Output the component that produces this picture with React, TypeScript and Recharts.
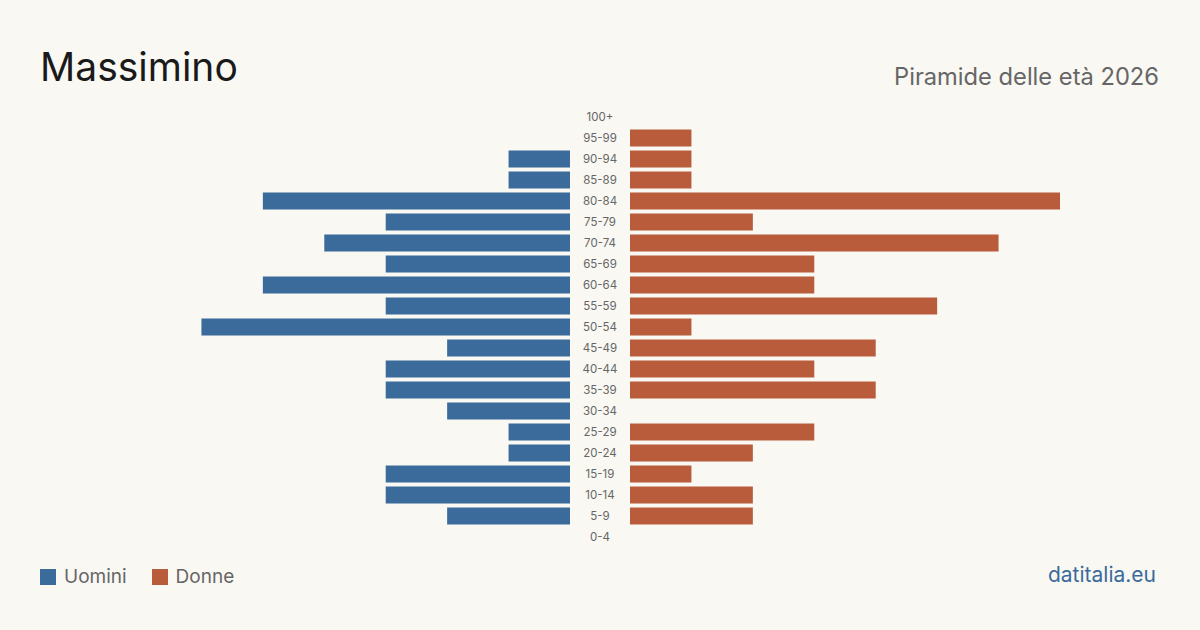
import React from "react";
import { BarChart, Bar, XAxis, YAxis } from "recharts";

const ageGroups = [
  "100+", "95-99", "90-94", "85-89", "80-84", "75-79", "70-74", "65-69", "60-64", "55-59",
  "50-54", "45-49", "40-44", "35-39", "30-34", "25-29", "20-24", "15-19", "10-14", "5-9", "0-4",
];
const uomini = [0, 0, 1, 1, 5, 3, 4, 3, 5, 3, 6, 2, 3, 3, 2, 1, 1, 3, 3, 2, 0];
const donne = [0, 1, 1, 1, 7, 2, 6, 3, 3, 5, 1, 4, 3, 4, 0, 3, 2, 1, 2, 2, 0];

const data = ageGroups.map((age, i) => ({ age, uomini: uomini[i], donne: donne[i] }));

const BLUE = "#3b6b9b";
const RED = "#b95c3c";
const BG = "#f9f8f3";
const FONT = "Inter, 'Noto Sans', sans-serif";
const MAX = 7;

// Age labels sit centred in the gap between the two halves
const AgeTick = (props: any) => {
  const { y, payload } = props;
  return (
    <text x={460} y={y} dy={4} textAnchor="middle" fontSize={11.5} fill="#666" fontFamily={FONT}>
      {payload.value}
    </text>
  );
};

export default function App() {
  const chartTop = 106.5;
  const chartBottom = 630 - 547.5;
  return (
    <div
      style={{
        position: "absolute",
        left: 0,
        top: 0,
        width: 1200,
        height: 630,
        background: BG,
        fontFamily: FONT,
        overflow: "hidden",
      }}
    >
      <div style={{ position: "absolute", left: 40, top: 42, fontSize: 39, color: "#1a1a1a", lineHeight: "50px" }}>
        Massimino
      </div>
      <div style={{ position: "absolute", right: 41, top: 62, fontSize: 23.7, color: "#666", lineHeight: "30px" }}>
        Piramide delle età 2026
      </div>

      <div style={{ position: "absolute", left: 140, top: 0 }}>
        <BarChart
          width={490}
          height={630}
          data={data}
          layout="vertical"
          margin={{ top: chartTop, bottom: chartBottom, left: 0, right: 0 }}
        >
          <XAxis type="number" domain={[0, MAX]} reversed hide />
          <YAxis
            type="category"
            dataKey="age"
            orientation="right"
            width={60}
            axisLine={false}
            tickLine={false}
            tick={<AgeTick />}
            interval={0}
          />
          <Bar dataKey="uomini" fill={BLUE} barSize={17} isAnimationActive={false} />
        </BarChart>
      </div>

      <div style={{ position: "absolute", left: 630, top: 0 }}>
        <BarChart
          width={430}
          height={630}
          data={data}
          layout="vertical"
          margin={{ top: chartTop, bottom: chartBottom, left: 0, right: 0 }}
        >
          <XAxis type="number" domain={[0, MAX]} hide />
          <YAxis type="category" dataKey="age" hide />
          <Bar dataKey="donne" fill={RED} barSize={17} isAnimationActive={false} />
        </BarChart>
      </div>

      <div style={{ position: "absolute", left: 40, top: 565, display: "flex", alignItems: "center", fontSize: 19, color: "#666" }}>
        <span style={{ width: 16, height: 16, background: BLUE, display: "inline-block", marginRight: 8 }} />
        <span>Uomini</span>
        <span style={{ width: 16, height: 16, background: RED, display: "inline-block", marginLeft: 25, marginRight: 8 }} />
        <span>Donne</span>
      </div>
      <div style={{ position: "absolute", right: 44, top: 562, fontSize: 21, color: BLUE }}>datitalia.eu</div>
    </div>
  );
}
